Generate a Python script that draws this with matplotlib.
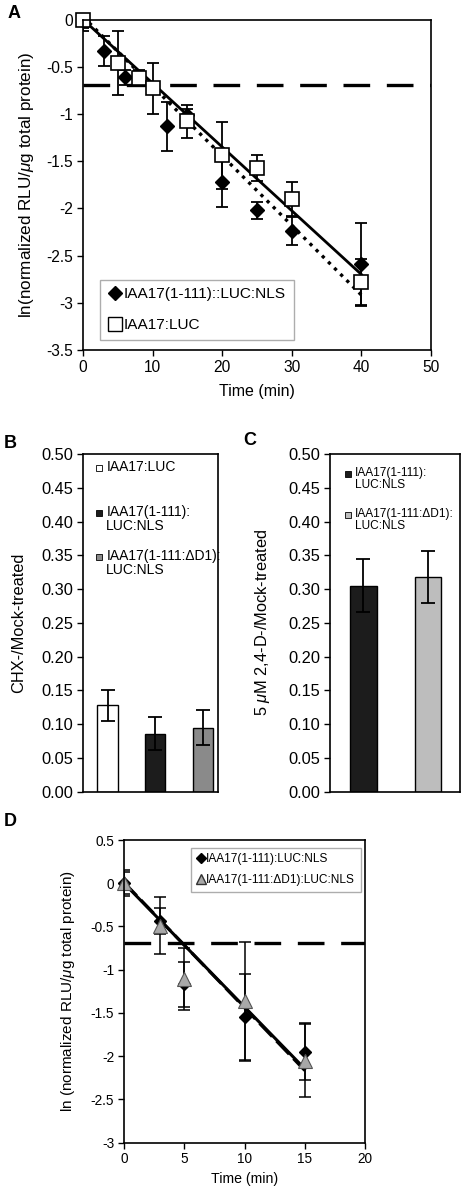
import numpy as np
import matplotlib
matplotlib.use('Agg')
import matplotlib.pyplot as plt
from matplotlib.lines import Line2D

plt.rcParams['font.family'] = ['Liberation Sans', 'DejaVu Sans']
plt.rcParams['axes.unicode_minus'] = False
plt.rcParams['mathtext.fontset'] = 'custom'
plt.rcParams['mathtext.it'] = 'Liberation Sans:italic'
plt.rcParams['mathtext.rm'] = 'Liberation Sans'

# panel A data
a_nls_t = [0, 3, 6, 12, 15, 20, 25, 30, 40]
a_nls_y = [0, -0.33, -0.61, -1.13, -1.01, -1.72, -2.02, -2.24, -2.59]
a_nls_err = [0.09, 0.16, 0.08, 0.26, 0.06, 0.27, 0.09, 0.15, 0.44]
a_luc_t = [0, 5, 8, 10, 15, 20, 25, 30, 40]
a_luc_y = [0, -0.46, -0.62, -0.73, -1.08, -1.44, -1.57, -1.90, -2.78]
a_luc_err = [0.12, 0.34, 0.08, 0.27, 0.17, 0.35, 0.14, 0.18, 0.24]
a_fit_luc = [-0.0675, 0.0]    # slope, intercept
a_fit_nls = [-0.0737, 0.03]
half_life = np.log(0.5)

# panel B data
b_labels = ['IAA17:LUC', 'IAA17(1-111):\nLUC:NLS', 'IAA17(1-111:ΔD1):\nLUC:NLS']
b_vals = [0.128, 0.086, 0.095]
b_err = [0.023, 0.024, 0.026]
b_colors = ['white', '#1c1c1c', '#8a8a8a']

# panel C data
c_labels = ['IAA17(1-111):\nLUC:NLS', 'IAA17(1-111:ΔD1):\nLUC:NLS']
c_vals = [0.305, 0.318]
c_err = [0.039, 0.038]
c_colors = ['#1c1c1c', '#bdbdbd']

# panel D data
d_t = [0, 3, 5, 10, 15]
d_nls_y = [0, -0.44, -1.17, -1.55, -1.95]
d_nls_err = [0.15, 0.15, 0.26, 0.50, 0.33]
d_dd1_y = [0, -0.49, -1.11, -1.36, -2.05]
d_dd1_err = [0.13, 0.33, 0.36, 0.68, 0.42]
d_fit_nls = [-0.143, 0.0]
d_fit_dd1 = [-0.145, 0.01]

W, H = 465, 1200
fig = plt.figure(figsize=(W / 100, H / 100), dpi=100)


def box(l, r, t, b):
    return [l / W, 1 - b / H, (r - l) / W, (b - t) / H]


def style(ax, fs):
    ax.tick_params(direction='out', length=4, width=1, labelsize=fs, top=False, right=False, pad=3)
    for s in ax.spines.values():
        s.set_linewidth(1.2)


def key(ax, colors, labels, xs, xt, ys, fs):
    # legend without frame, square swatch beside the first line of each label
    for c, lab, y in zip(colors, labels, ys):
        ax.plot([xs], [y], 's', transform=ax.transAxes, ms=5, mfc=c, mec='black', mew=0.6, clip_on=False)
        ax.text(xt, y + 0.022, lab, transform=ax.transAxes, fontsize=fs, va='top', ha='left', linespacing=1.0)


# ---- A ----
ax = fig.add_axes(box(83, 431, 19.5, 350))
ax.axhline(half_life, color='black', lw=2.4, dashes=(8, 5))
xx = np.array([0, 40])
ax.plot(xx, a_fit_nls[0] * xx + a_fit_nls[1], color='black', lw=2.4, ls=(0, (1, 1.6)))
ax.plot(xx, a_fit_luc[0] * xx + a_fit_luc[1], color='black', lw=2)
ax.errorbar(a_nls_t, a_nls_y, yerr=a_nls_err, fmt='none', ecolor='black', elinewidth=1.3, capsize=4, capthick=1.3)
ax.errorbar(a_luc_t, a_luc_y, yerr=a_luc_err, fmt='none', ecolor='black', elinewidth=1.3, capsize=4, capthick=1.3)
ax.plot(a_nls_t, a_nls_y, 'D', color='black', ms=7.5, ls='none', clip_on=False)
ax.plot(a_luc_t, a_luc_y, 's', mfc='white', mec='black', mew=1.2, ms=10.5, ls='none', clip_on=False)
ax.set_xlim(0, 50)
ax.set_ylim(-3.5, 0)
ax.set_xticks(range(0, 51, 10))
ax.set_yticks(np.arange(-3.5, 0.01, 0.5))
ax.set_yticklabels(['-3.5', '-3', '-2.5', '-2', '-1.5', '-1', '-0.5', '0'])
ax.set_xlabel('Time (min)', fontsize=11.5, labelpad=7)
ax.set_ylabel(r'ln(normalized RLU/$\mathit{\mu}$g total protein)', fontsize=12.3, labelpad=7.5)
style(ax, 11.2)
h = [Line2D([], [], marker='D', color='black', ls='none', ms=7),
     Line2D([], [], marker='s', mfc='white', mec='black', ls='none', ms=10)]
leg = ax.legend(h, ['IAA17(1-111)::LUC:NLS', 'IAA17:LUC'], loc='lower left', bbox_to_anchor=(0.049, 0.03),
                borderaxespad=0, fancybox=False, edgecolor='#999999', fontsize=11.1, handletextpad=0.05,
                handlelength=1.0, labelspacing=1.1, borderpad=0.5)
leg.get_frame().set_linewidth(1)
fig.text(14 / W, 1 - 14 / H, 'A', fontsize=13, fontweight='bold', ha='center', va='center')

# ---- B ----
ax = fig.add_axes(box(82.7, 217.7, 454, 791.7))
xb = np.arange(len(b_vals))
ax.bar(xb, b_vals, width=0.42, color=b_colors, edgecolor='black', linewidth=1,
       yerr=b_err, error_kw=dict(elinewidth=1.3, capsize=5, capthick=1.3))
ax.set_xlim(-0.52, 2.31)
ax.set_ylim(0, 0.5)
ax.set_xticks([])
ax.set_yticks(np.arange(0, 0.501, 0.05))
ax.set_yticklabels(['%.2f' % v for v in np.arange(0, 0.501, 0.05)])
ax.set_ylabel('CHX-/Mock-treated', fontsize=11.8, labelpad=11)
style(ax, 11.8)
key(ax, b_colors, b_labels, 0.12, 0.175, [0.9594, 0.8262, 0.6959], 10)
fig.text(10 / W, 1 - 443 / H, 'B', fontsize=13, fontweight='bold', ha='center', va='center')

# ---- C ----
ax = fig.add_axes(box(330, 460, 454, 791.7))
xc = np.arange(len(c_vals))
ax.bar(xc, c_vals, width=0.41, color=c_colors, edgecolor='black', linewidth=1,
       yerr=c_err, error_kw=dict(elinewidth=1.3, capsize=5, capthick=1.3))
ax.set_xlim(-0.517, 1.5)
ax.set_ylim(0, 0.5)
ax.set_xticks([])
ax.set_yticks(np.arange(0, 0.501, 0.05))
ax.set_yticklabels(['%.2f' % v for v in np.arange(0, 0.501, 0.05)])
ax.set_ylabel(r'5 $\mathit{\mu}$M 2,4-D-/Mock-treated', fontsize=11.8, labelpad=12)
style(ax, 11.8)
key(ax, c_colors, c_labels, 0.14, 0.192, [0.940, 0.819], 8.6)
fig.text(250 / W, 1 - 441 / H, 'C', fontsize=13, fontweight='bold', ha='center', va='center')

# ---- D ----
ax = fig.add_axes(box(124, 365, 840, 1142.7))
ax.axhline(half_life, color='black', lw=2.4, dashes=(8, 5))
xx = np.array([0, 15])
ax.errorbar(d_t, d_nls_y, yerr=d_nls_err, fmt='none', ecolor='black', elinewidth=1.1, capsize=4, capthick=1.1)
ax.errorbar(d_t, d_dd1_y, yerr=d_dd1_err, fmt='none', ecolor='black', elinewidth=1.1, capsize=4, capthick=1.1)
ax.plot(xx, d_fit_nls[0] * xx + d_fit_nls[1], color='black', lw=2.2)
ax.plot(xx, d_fit_dd1[0] * xx + d_fit_dd1[1], color='black', lw=2.2, ls=(0, (6, 2)))
ax.plot(d_t, d_nls_y, 'D', color='black', ms=6.5, ls='none', clip_on=False)
ax.plot(d_t, d_dd1_y, '^', mfc='#a8a8a8', mec='#555555', mew=0.8, ms=10, ls='none', clip_on=False)
ax.set_xlim(0, 20)
ax.set_ylim(-3, 0.5)
ax.set_xticks(range(0, 21, 5))
ax.set_yticks(np.arange(-3, 0.51, 0.5))
ax.set_yticklabels(['-3', '-2.5', '-2', '-1.5', '-1', '-0.5', '0', '0.5'])
ax.set_xlabel('Time (min)', fontsize=10.2, labelpad=4)
ax.set_ylabel(r'ln (normalized RLU/$\mathit{\mu}$g total protein)', fontsize=11, labelpad=10)
style(ax, 9.8)
h = [Line2D([], [], marker='D', color='black', ls='none', ms=5),
     Line2D([], [], marker='^', mfc='#a8a8a8', mec='#333333', ls='none', ms=7)]
leg = ax.legend(h, ['IAA17(1-111):LUC:NLS', 'IAA17(1-111:ΔD1):LUC:NLS'], loc='upper left',
                bbox_to_anchor=(0.277, 0.974), borderaxespad=0, fancybox=False, edgecolor='#999999',
                fontsize=8.6, handletextpad=0.05, handlelength=0.8, labelspacing=0.75, borderpad=0.45)
leg.get_frame().set_linewidth(1)
fig.text(10 / W, 1 - 822 / H, 'D', fontsize=13, fontweight='bold', ha='center', va='center')

fig.savefig('out.png', dpi=100)
